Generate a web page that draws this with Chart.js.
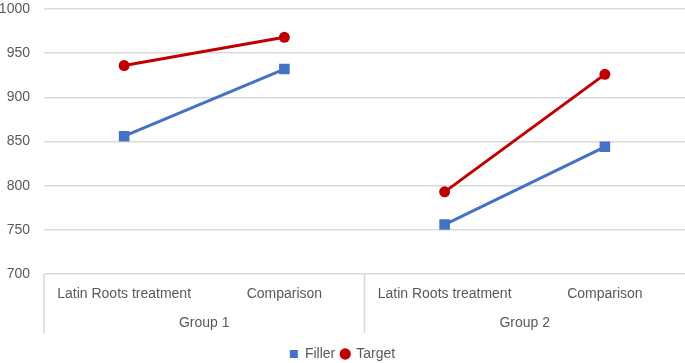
<!DOCTYPE html>
<html>
<head>
<meta charset="utf-8">
<script src="https://cdn.jsdelivr.net/npm/chart.js@4"></script>
<style>
  html, body { margin: 0; padding: 0; background: #fff; }
  #wrap { width: 685px; height: 363px; position: relative; }
</style>
</head>
<body>
<div id="wrap"><canvas id="chart"></canvas></div>
<script>
const categories = ['Latin Roots treatment', 'Comparison', 'Latin Roots treatment', 'Comparison'];
const groups = ['Group 1', 'Group 2'];
const fillerValues = [856, 932, 756, 844];
const targetValues = [936, 968, 793, 926];
const yTicks = [700, 750, 800, 850, 900, 950, 1000];

const FONT = '"Liberation Sans", Arial, sans-serif';
const TEXT = '#595959';
const GRID = '#d9d9d9';

// lines stop at the group boundary
const groupSize = categories.length / groups.length;
const hideGap = ctx => ((ctx.p0DataIndex + 1) % groupSize === 0 ? 'transparent' : undefined);

// draws the group row under the category labels
const groupAxis = {
    id: 'groupAxis',
    afterDraw(chart) {
        const { ctx, chartArea, scales } = chart;
        const x = scales.x;
        const step = x.getPixelForValue(1) - x.getPixelForValue(0);
        ctx.save();
        ctx.strokeStyle = GRID;
        ctx.lineWidth = 1.5;
        for (let g = 0; g < groups.length; g++) {
            const first = g * groupSize;
            const left = x.getPixelForValue(first) - step / 2;
            const right = x.getPixelForValue(first + groupSize - 1) + step / 2;
            ctx.beginPath();
            ctx.moveTo(left, chartArea.bottom);
            ctx.lineTo(left, chartArea.bottom + 59);
            ctx.stroke();
            ctx.fillStyle = TEXT;
            ctx.font = '14px ' + FONT;
            ctx.textAlign = 'center';
            ctx.textBaseline = 'middle';
            ctx.fillText(groups[g], (left + right) / 2, chartArea.bottom + 49);
        }
        ctx.restore();
    }
};

new Chart(document.getElementById('chart').getContext('2d'), {
    type: 'line',
    data: {
        labels: categories,
        datasets: [
            {
                label: 'Filler',
                data: fillerValues,
                borderColor: '#4472C4',
                backgroundColor: '#4472C4',
                borderWidth: 3,
                pointStyle: 'rect',
                pointRadius: 7.5,
                pointHoverRadius: 7.5,
                pointBorderWidth: 0,
                segment: { borderColor: hideGap }
            },
            {
                label: 'Target',
                data: targetValues,
                borderColor: '#C00000',
                backgroundColor: '#C00000',
                borderWidth: 3,
                pointStyle: 'circle',
                pointRadius: 5.5,
                pointHoverRadius: 5.5,
                pointBorderWidth: 0,
                segment: { borderColor: hideGap }
            }
        ]
    },
    options: {
        responsive: true,
        maintainAspectRatio: false,
        animation: false,
        layout: { autoPadding: false, padding: { top: 0, right: 0, left: 0, bottom: -8 } },
        plugins: {
            legend: {
                position: 'bottom',
                labels: {
                    usePointStyle: true,
                    boxWidth: 8,
                    boxHeight: 8,
                    padding: 6,
                    color: TEXT,
                    font: { family: FONT, size: 14 },
                    generateLabels: chart => Chart.defaults.plugins.legend.labels.generateLabels(chart)
                        .map(l => Object.assign(l, { lineWidth: 0 }))
                }
            },
            tooltip: { enabled: false }
        },
        scales: {
            x: {
                offset: true,
                grid: { display: false, drawTicks: false },
                border: { display: false },
                ticks: {
                    color: TEXT,
                    font: { family: FONT, size: 14 },
                    maxRotation: 0,
                    autoSkip: false,
                    padding: 12
                },
                afterFit: s => { s.height = 67; }
            },
            y: {
                min: 700,
                max: 1000,
                afterBuildTicks: s => { s.ticks = yTicks.map(v => ({ value: v })); },
                grid: { color: GRID, lineWidth: 1.5, drawTicks: false },
                border: { display: false },
                ticks: {
                    color: TEXT,
                    font: { family: FONT, size: 14 },
                    padding: 14,
                    callback: v => String(v)
                },
                afterFit: s => {
                    s.width = 44;
                    s.paddingTop = 9;
                    s.paddingBottom = 0;
                }
            }
        }
    },
    plugins: [groupAxis]
});
</script>
</body>
</html>
